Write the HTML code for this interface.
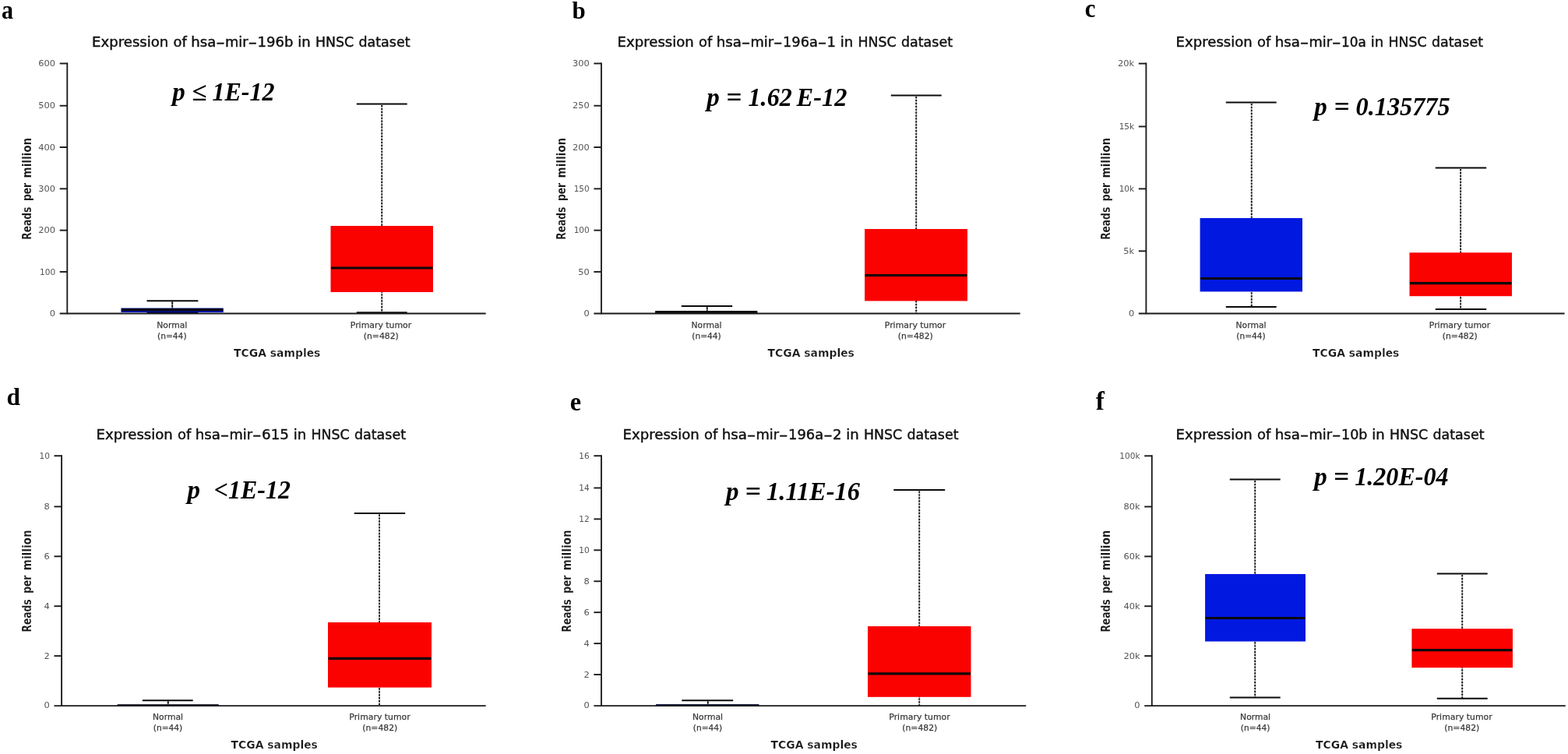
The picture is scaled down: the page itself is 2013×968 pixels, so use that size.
<!DOCTYPE html>
<html lang="en">
<head>
<meta charset="utf-8">
<title>Expression of hsa-mir in HNSC dataset</title>
<style>
html,body{margin:0;padding:0;background:#fff;}
body{width:2013px;height:968px;overflow:hidden;}
svg{display:block;}
.sans{font-family:"DejaVu Sans", "Liberation Sans", sans-serif;}
.serif{font-family:"Liberation Serif", serif;}
.letter{font-family:"Liberation Serif", serif;font-weight:bold;font-size:32.8px;fill:#000;}
.title{font-family:"DejaVu Sans", "Liberation Sans", sans-serif;font-size:18.3px;fill:#111;stroke:#111;stroke-width:0.45px;}
.tick{font-family:"DejaVu Sans", "Liberation Sans", sans-serif;font-size:10.9px;fill:#555;}
.cat{font-family:"DejaVu Sans", "Liberation Sans", sans-serif;font-size:11.2px;fill:#3a3a3a;stroke:#3a3a3a;stroke-width:0.25px;}
.axt{font-family:"DejaVu Sans", "Liberation Sans", sans-serif;font-size:13.6px;font-weight:bold;fill:#161616;stroke:#fff;stroke-width:0.22px;}
.p{font-family:"Liberation Serif", serif;font-weight:bold;font-style:italic;font-size:33px;fill:#000;}
</style>
</head>
<body>
<svg width="2013" height="968" viewBox="0 0 2013 968">
<rect x="0" y="0" width="2013" height="968" fill="#ffffff"/>

<g>
<text class="letter" transform="translate(2 24.2) scale(0.875 1)" style="font-size:34.4px">a</text>
<text class="title" y="59.8"><tspan x="118.1" textLength="98.2" lengthAdjust="spacingAndGlyphs">Expression</tspan> <tspan x="222.6" textLength="17.3" lengthAdjust="spacingAndGlyphs">of</tspan> <tspan x="245.2" textLength="32.15" lengthAdjust="spacingAndGlyphs">hsa</tspan><tspan x="277.3" textLength="11.6" lengthAdjust="spacingAndGlyphs">-</tspan><tspan x="288.9" textLength="29.55" lengthAdjust="spacingAndGlyphs">mir</tspan><tspan x="318.6" textLength="11.6" lengthAdjust="spacingAndGlyphs">-</tspan><tspan x="330.5" textLength="45.9" lengthAdjust="spacingAndGlyphs">196b</tspan> <tspan x="382.3" textLength="16.5" lengthAdjust="spacingAndGlyphs">in</tspan> <tspan x="405" textLength="49.1" lengthAdjust="spacingAndGlyphs">HNSC</tspan> <tspan x="460.45" textLength="66.05" lengthAdjust="spacingAndGlyphs">dataset</tspan></text>
<line x1="221.25" y1="387.8" x2="221.25" y2="401.3" stroke="#111" stroke-width="1.5" stroke-opacity="0.3"/>
<line x1="221.25" y1="387.8" x2="221.25" y2="401.3" stroke="#111" stroke-width="1.9" stroke-dasharray="2.2 1.71"/>
<rect x="155.4" y="395.5" width="131.4" height="5.5" fill="#0018e0"/>
<line x1="155.9" y1="397.8" x2="286.3" y2="397.8" stroke="#0a0a0a" stroke-width="3.4"/>
<line x1="188.5" y1="386.3" x2="254.4" y2="386.3" stroke="#0a0a0a" stroke-width="2"/>
<line x1="188.5" y1="401.3" x2="254.4" y2="401.3" stroke="#000050" stroke-width="2"/>
<line x1="221.25" y1="386.3" x2="221.25" y2="395.5" stroke="#111" stroke-width="1.3" stroke-opacity="0.75"/>
<line x1="490.25" y1="135" x2="490.25" y2="401.3" stroke="#111" stroke-width="1.5" stroke-opacity="0.3"/>
<line x1="490.25" y1="135" x2="490.25" y2="401.3" stroke="#111" stroke-width="1.9" stroke-dasharray="2.2 1.71"/>
<rect x="424.5" y="290" width="131.5" height="85" fill="#fa0200"/>
<line x1="425" y1="344" x2="555.5" y2="344" stroke="#0a0a0a" stroke-width="3"/>
<line x1="457.8" y1="133.5" x2="522.7" y2="133.5" stroke="#0a0a0a" stroke-width="2"/>
<line x1="457.8" y1="401.3" x2="522.7" y2="401.3" stroke="#0a0a0a" stroke-width="2"/>
<line x1="86.3" y1="80.5" x2="86.3" y2="403.3" stroke="#1a1a1a" stroke-width="1.85"/>
<line x1="76.7" y1="402.45" x2="623.7" y2="402.45" stroke="#1a1a1a" stroke-width="1.85"/>
<line x1="76.7" y1="81.5" x2="86.3" y2="81.5" stroke="#1a1a1a" stroke-width="1.9"/>
<text class="tick" transform="translate(71.1 85.25) scale(1.05 1)" text-anchor="end">600</text>
<line x1="76.7" y1="135.72" x2="86.3" y2="135.72" stroke="#1a1a1a" stroke-width="1.9"/>
<text class="tick" transform="translate(71.1 139.47) scale(1.05 1)" text-anchor="end">500</text>
<line x1="76.7" y1="189.03" x2="86.3" y2="189.03" stroke="#1a1a1a" stroke-width="1.9"/>
<text class="tick" transform="translate(71.1 192.78) scale(1.05 1)" text-anchor="end">400</text>
<line x1="76.7" y1="242.35" x2="86.3" y2="242.35" stroke="#1a1a1a" stroke-width="1.9"/>
<text class="tick" transform="translate(71.1 246.1) scale(1.05 1)" text-anchor="end">300</text>
<line x1="76.7" y1="295.67" x2="86.3" y2="295.67" stroke="#1a1a1a" stroke-width="1.9"/>
<text class="tick" transform="translate(71.1 299.42) scale(1.05 1)" text-anchor="end">200</text>
<line x1="76.7" y1="348.98" x2="86.3" y2="348.98" stroke="#1a1a1a" stroke-width="1.9"/>
<text class="tick" transform="translate(71.1 352.73) scale(0.97 1)" text-anchor="end">100</text>
<text class="tick" transform="translate(71.1 405.5) scale(1.05 1)" text-anchor="end">0</text>
<text class="axt" style="font-size:15.3px;stroke-width:0.15px" transform="translate(39.7 242.4) rotate(-90)"><tspan x="-65.4" textLength="42" lengthAdjust="spacingAndGlyphs">Reads</tspan> <tspan x="-15.7" textLength="23.2" lengthAdjust="spacingAndGlyphs">per</tspan> <tspan x="13.9" textLength="51.8" lengthAdjust="spacingAndGlyphs">million</tspan></text>
<text class="axt" x="355.7" y="457.6" text-anchor="middle" textLength="111.4" lengthAdjust="spacingAndGlyphs">TCGA samples</text>
<text class="cat" x="220.8" y="420.8" text-anchor="middle" textLength="39" lengthAdjust="spacingAndGlyphs">Normal</text>
<text class="cat" x="220.8" y="434.9" text-anchor="middle" textLength="37.5" lengthAdjust="spacingAndGlyphs">(n=44)</text>
<text class="cat" x="489" y="420.8" text-anchor="middle" textLength="78.5" lengthAdjust="spacingAndGlyphs">Primary tumor</text>
<text class="cat" x="489.3" y="434.9" text-anchor="middle" textLength="45" lengthAdjust="spacingAndGlyphs">(n=482)</text>
<text class="p" y="129" xml:space="preserve"><tspan x="221.2">p</tspan> <tspan x="246.2" textLength="19.1" lengthAdjust="spacingAndGlyphs">≤</tspan> <tspan x="272.5" textLength="80" lengthAdjust="spacingAndGlyphs">1E-12</tspan></text>
</g>
<g>
<text class="letter" transform="translate(734.6 24.4) scale(0.985 1)" style="font-size:31.5px">b</text>
<text class="title" y="59.8"><tspan x="792.6" textLength="98.2" lengthAdjust="spacingAndGlyphs">Expression</tspan> <tspan x="897.1" textLength="17.3" lengthAdjust="spacingAndGlyphs">of</tspan> <tspan x="919.7" textLength="32.15" lengthAdjust="spacingAndGlyphs">hsa</tspan><tspan x="951.8" textLength="11.6" lengthAdjust="spacingAndGlyphs">-</tspan><tspan x="963.4" textLength="29.55" lengthAdjust="spacingAndGlyphs">mir</tspan><tspan x="993.1" textLength="11.6" lengthAdjust="spacingAndGlyphs">-</tspan><tspan x="1005" textLength="44.87" lengthAdjust="spacingAndGlyphs">196a</tspan><tspan x="1049.87" textLength="11.6" lengthAdjust="spacingAndGlyphs">-</tspan><tspan x="1061.48" textLength="11.42" lengthAdjust="spacingAndGlyphs">1</tspan> <tspan x="1078.8" textLength="16.5" lengthAdjust="spacingAndGlyphs">in</tspan> <tspan x="1101.5" textLength="49.1" lengthAdjust="spacingAndGlyphs">HNSC</tspan> <tspan x="1156.95" textLength="66.05" lengthAdjust="spacingAndGlyphs">dataset</tspan></text>
<line x1="907.75" y1="394.5" x2="907.75" y2="402" stroke="#111" stroke-width="1.5" stroke-opacity="0.3"/>
<line x1="907.75" y1="394.5" x2="907.75" y2="402" stroke="#111" stroke-width="1.9" stroke-dasharray="2.2 1.71"/>
<rect x="841" y="399.3" width="131.5" height="2.7" fill="#0018e0"/>
<line x1="841.5" y1="400.5" x2="972" y2="400.5" stroke="#0a0a0a" stroke-width="3"/>
<line x1="874.8" y1="393" x2="940.2" y2="393" stroke="#0a0a0a" stroke-width="2"/>
<line x1="874.8" y1="402" x2="940.2" y2="402" stroke="#0a0a0a" stroke-width="2"/>
<line x1="907.75" y1="393" x2="907.75" y2="399.3" stroke="#111" stroke-width="1.3" stroke-opacity="0.75"/>
<line x1="1176.25" y1="124" x2="1176.25" y2="402.45" stroke="#111" stroke-width="1.5" stroke-opacity="0.3"/>
<line x1="1176.25" y1="124" x2="1176.25" y2="402.45" stroke="#111" stroke-width="1.9" stroke-dasharray="2.2 1.71"/>
<rect x="1110.1" y="294" width="131.9" height="92.4" fill="#fa0200"/>
<line x1="1110.6" y1="353.5" x2="1241.5" y2="353.5" stroke="#0a0a0a" stroke-width="3.2"/>
<line x1="1143.8" y1="122.5" x2="1208.7" y2="122.5" stroke="#0a0a0a" stroke-width="2"/>
<line x1="772" y1="80.5" x2="772" y2="403.3" stroke="#1a1a1a" stroke-width="1.85"/>
<line x1="762.4" y1="402.45" x2="1309.7" y2="402.45" stroke="#1a1a1a" stroke-width="1.85"/>
<line x1="762.4" y1="81.5" x2="772" y2="81.5" stroke="#1a1a1a" stroke-width="1.9"/>
<text class="tick" transform="translate(756.8 85.25) scale(1.05 1)" text-anchor="end">300</text>
<line x1="762.4" y1="135.72" x2="772" y2="135.72" stroke="#1a1a1a" stroke-width="1.9"/>
<text class="tick" transform="translate(756.8 139.47) scale(1.05 1)" text-anchor="end">250</text>
<line x1="762.4" y1="189.03" x2="772" y2="189.03" stroke="#1a1a1a" stroke-width="1.9"/>
<text class="tick" transform="translate(756.8 192.78) scale(1.05 1)" text-anchor="end">200</text>
<line x1="762.4" y1="242.35" x2="772" y2="242.35" stroke="#1a1a1a" stroke-width="1.9"/>
<text class="tick" transform="translate(756.8 246.1) scale(0.97 1)" text-anchor="end">150</text>
<line x1="762.4" y1="295.67" x2="772" y2="295.67" stroke="#1a1a1a" stroke-width="1.9"/>
<text class="tick" transform="translate(756.8 299.42) scale(0.97 1)" text-anchor="end">100</text>
<line x1="762.4" y1="348.98" x2="772" y2="348.98" stroke="#1a1a1a" stroke-width="1.9"/>
<text class="tick" transform="translate(756.8 352.73) scale(1.05 1)" text-anchor="end">50</text>
<text class="tick" transform="translate(756.8 405.5) scale(1.05 1)" text-anchor="end">0</text>
<text class="axt" style="font-size:15.3px;stroke-width:0.15px" transform="translate(725.7 242.4) rotate(-90)"><tspan x="-65.4" textLength="42" lengthAdjust="spacingAndGlyphs">Reads</tspan> <tspan x="-15.7" textLength="23.2" lengthAdjust="spacingAndGlyphs">per</tspan> <tspan x="13.9" textLength="51.8" lengthAdjust="spacingAndGlyphs">million</tspan></text>
<text class="axt" x="1041.2" y="457.6" text-anchor="middle" textLength="111.4" lengthAdjust="spacingAndGlyphs">TCGA samples</text>
<text class="cat" x="907" y="420.8" text-anchor="middle" textLength="39" lengthAdjust="spacingAndGlyphs">Normal</text>
<text class="cat" x="907" y="434.9" text-anchor="middle" textLength="37.5" lengthAdjust="spacingAndGlyphs">(n=44)</text>
<text class="cat" x="1175" y="420.8" text-anchor="middle" textLength="78.5" lengthAdjust="spacingAndGlyphs">Primary tumor</text>
<text class="cat" x="1175.3" y="434.9" text-anchor="middle" textLength="45" lengthAdjust="spacingAndGlyphs">(n=482)</text>
<text class="p" y="136" xml:space="preserve"><tspan x="907.2">p</tspan> <tspan x="932.3" textLength="20.1" lengthAdjust="spacingAndGlyphs">=</tspan> <tspan x="960.5" textLength="56.3" lengthAdjust="spacingAndGlyphs">1.62</tspan> <tspan x="1022.6" textLength="64.9" lengthAdjust="spacingAndGlyphs">E-12</tspan></text>
</g>
<g>
<text class="letter" transform="translate(1392.7 21.7) scale(0.924 1)" style="font-size:33.4px">c</text>
<text class="title" y="59.8"><tspan x="1509.6" textLength="98.2" lengthAdjust="spacingAndGlyphs">Expression</tspan> <tspan x="1614.1" textLength="17.3" lengthAdjust="spacingAndGlyphs">of</tspan> <tspan x="1636.7" textLength="32.15" lengthAdjust="spacingAndGlyphs">hsa</tspan><tspan x="1668.8" textLength="11.6" lengthAdjust="spacingAndGlyphs">-</tspan><tspan x="1680.4" textLength="29.55" lengthAdjust="spacingAndGlyphs">mir</tspan><tspan x="1710.1" textLength="11.6" lengthAdjust="spacingAndGlyphs">-</tspan><tspan x="1722" textLength="31.9" lengthAdjust="spacingAndGlyphs">10a</tspan> <tspan x="1759.8" textLength="16.5" lengthAdjust="spacingAndGlyphs">in</tspan> <tspan x="1782.5" textLength="49.1" lengthAdjust="spacingAndGlyphs">HNSC</tspan> <tspan x="1837.95" textLength="66.05" lengthAdjust="spacingAndGlyphs">dataset</tspan></text>
<line x1="1606.75" y1="133" x2="1606.75" y2="394" stroke="#111" stroke-width="1.5" stroke-opacity="0.3"/>
<line x1="1606.75" y1="133" x2="1606.75" y2="394" stroke="#111" stroke-width="1.9" stroke-dasharray="2.2 1.71"/>
<rect x="1540.6" y="280" width="131.4" height="94.4" fill="#0018e0"/>
<line x1="1541.1" y1="357.5" x2="1671.5" y2="357.5" stroke="#0a0a0a" stroke-width="3"/>
<line x1="1573.8" y1="131.5" x2="1638.7" y2="131.5" stroke="#0a0a0a" stroke-width="2"/>
<line x1="1573.8" y1="394" x2="1638.7" y2="394" stroke="#0a0a0a" stroke-width="2"/>
<line x1="1875.15" y1="217.1" x2="1875.15" y2="397.1" stroke="#111" stroke-width="1.5" stroke-opacity="0.3"/>
<line x1="1875.15" y1="217.1" x2="1875.15" y2="397.1" stroke="#111" stroke-width="1.9" stroke-dasharray="2.2 1.71"/>
<rect x="1809.5" y="324.3" width="131.5" height="55.9" fill="#fa0200"/>
<line x1="1810" y1="363.6" x2="1940.5" y2="363.6" stroke="#0a0a0a" stroke-width="3.2"/>
<line x1="1842.8" y1="215.6" x2="1908.2" y2="215.6" stroke="#0a0a0a" stroke-width="2"/>
<line x1="1842.8" y1="397.1" x2="1908.2" y2="397.1" stroke="#0a0a0a" stroke-width="2"/>
<line x1="1471.4" y1="80.6" x2="1471.4" y2="403.3" stroke="#1a1a1a" stroke-width="1.85"/>
<line x1="1461.8" y1="402.45" x2="2008.6" y2="402.45" stroke="#1a1a1a" stroke-width="1.85"/>
<line x1="1461.8" y1="81.6" x2="1471.4" y2="81.6" stroke="#1a1a1a" stroke-width="1.9"/>
<text class="tick" transform="translate(1456.2 85.35) scale(1.05 1)" text-anchor="end">20k</text>
<line x1="1461.8" y1="162.45" x2="1471.4" y2="162.45" stroke="#1a1a1a" stroke-width="1.9"/>
<text class="tick" transform="translate(1456.2 166.2) scale(0.97 1)" text-anchor="end">15k</text>
<line x1="1461.8" y1="242.4" x2="1471.4" y2="242.4" stroke="#1a1a1a" stroke-width="1.9"/>
<text class="tick" transform="translate(1456.2 246.15) scale(0.97 1)" text-anchor="end">10k</text>
<line x1="1461.8" y1="322.35" x2="1471.4" y2="322.35" stroke="#1a1a1a" stroke-width="1.9"/>
<text class="tick" transform="translate(1456.2 326.1) scale(1.05 1)" text-anchor="end">5k</text>
<text class="tick" transform="translate(1456.2 405.5) scale(1.05 1)" text-anchor="end">0</text>
<text class="axt" style="font-size:15.3px;stroke-width:0.15px" transform="translate(1425.2 242.45) rotate(-90)"><tspan x="-65.4" textLength="42" lengthAdjust="spacingAndGlyphs">Reads</tspan> <tspan x="-15.7" textLength="23.2" lengthAdjust="spacingAndGlyphs">per</tspan> <tspan x="13.9" textLength="51.8" lengthAdjust="spacingAndGlyphs">million</tspan></text>
<text class="axt" x="1740.7" y="457.6" text-anchor="middle" textLength="111.4" lengthAdjust="spacingAndGlyphs">TCGA samples</text>
<text class="cat" x="1606" y="420.8" text-anchor="middle" textLength="39" lengthAdjust="spacingAndGlyphs">Normal</text>
<text class="cat" x="1606" y="434.9" text-anchor="middle" textLength="37.5" lengthAdjust="spacingAndGlyphs">(n=44)</text>
<text class="cat" x="1874" y="420.8" text-anchor="middle" textLength="78.5" lengthAdjust="spacingAndGlyphs">Primary tumor</text>
<text class="cat" x="1874.3" y="434.9" text-anchor="middle" textLength="45" lengthAdjust="spacingAndGlyphs">(n=482)</text>
<text class="p" y="147.5" xml:space="preserve"><tspan x="1687.2">p</tspan> <tspan x="1712.4" textLength="20.1" lengthAdjust="spacingAndGlyphs">=</tspan> <tspan x="1740.6" textLength="121" lengthAdjust="spacingAndGlyphs">0.135775</tspan></text>
</g>
<g>
<text class="letter" transform="translate(8.5 520.15) scale(1.0 1)" style="font-size:31.3px">d</text>
<text class="title" y="564.3"><tspan x="123.6" textLength="98.2" lengthAdjust="spacingAndGlyphs">Expression</tspan> <tspan x="228.1" textLength="17.3" lengthAdjust="spacingAndGlyphs">of</tspan> <tspan x="250.7" textLength="32.15" lengthAdjust="spacingAndGlyphs">hsa</tspan><tspan x="282.8" textLength="11.6" lengthAdjust="spacingAndGlyphs">-</tspan><tspan x="294.4" textLength="29.55" lengthAdjust="spacingAndGlyphs">mir</tspan><tspan x="324.1" textLength="11.6" lengthAdjust="spacingAndGlyphs">-</tspan><tspan x="336" textLength="34.9" lengthAdjust="spacingAndGlyphs">615</tspan> <tspan x="376.8" textLength="16.5" lengthAdjust="spacingAndGlyphs">in</tspan> <tspan x="399.5" textLength="49.1" lengthAdjust="spacingAndGlyphs">HNSC</tspan> <tspan x="454.95" textLength="66.05" lengthAdjust="spacingAndGlyphs">dataset</tspan></text>
<line x1="215.75" y1="900.8" x2="215.75" y2="906.15" stroke="#111" stroke-width="1.5" stroke-opacity="0.3"/>
<line x1="215.75" y1="900.8" x2="215.75" y2="906.15" stroke="#111" stroke-width="1.9" stroke-dasharray="2.2 1.71"/>
<rect x="150.5" y="904.6" width="130.5" height="1.4" fill="#0018e0"/>
<line x1="151" y1="905.1" x2="280.5" y2="905.1" stroke="#0a0a0a" stroke-width="1.9"/>
<line x1="182.8" y1="899.3" x2="247.7" y2="899.3" stroke="#0a0a0a" stroke-width="2"/>
<line x1="215.75" y1="899.3" x2="215.75" y2="904.6" stroke="#111" stroke-width="1.3" stroke-opacity="0.75"/>
<line x1="487.05" y1="660.5" x2="487.05" y2="906.15" stroke="#111" stroke-width="1.5" stroke-opacity="0.3"/>
<line x1="487.05" y1="660.5" x2="487.05" y2="906.15" stroke="#111" stroke-width="1.9" stroke-dasharray="2.2 1.71"/>
<rect x="421" y="799" width="133" height="83.6" fill="#fa0200"/>
<line x1="421.5" y1="845.3" x2="553.5" y2="845.3" stroke="#0a0a0a" stroke-width="3.2"/>
<line x1="454.8" y1="659" x2="520.2" y2="659" stroke="#0a0a0a" stroke-width="2"/>
<line x1="79.1" y1="584.2" x2="79.1" y2="907" stroke="#1a1a1a" stroke-width="1.85"/>
<line x1="69.5" y1="906.15" x2="623.7" y2="906.15" stroke="#1a1a1a" stroke-width="1.85"/>
<line x1="69.5" y1="585.2" x2="79.1" y2="585.2" stroke="#1a1a1a" stroke-width="1.9"/>
<text class="tick" transform="translate(63.9 588.95) scale(0.97 1)" text-anchor="end">10</text>
<line x1="69.5" y1="650.4" x2="79.1" y2="650.4" stroke="#1a1a1a" stroke-width="1.9"/>
<text class="tick" transform="translate(63.9 654.15) scale(1.05 1)" text-anchor="end">8</text>
<line x1="69.5" y1="714.3" x2="79.1" y2="714.3" stroke="#1a1a1a" stroke-width="1.9"/>
<text class="tick" transform="translate(63.9 718.05) scale(1.05 1)" text-anchor="end">6</text>
<line x1="69.5" y1="778.2" x2="79.1" y2="778.2" stroke="#1a1a1a" stroke-width="1.9"/>
<text class="tick" transform="translate(63.9 781.95) scale(1.05 1)" text-anchor="end">4</text>
<line x1="69.5" y1="842.1" x2="79.1" y2="842.1" stroke="#1a1a1a" stroke-width="1.9"/>
<text class="tick" transform="translate(63.9 845.85) scale(1.05 1)" text-anchor="end">2</text>
<text class="tick" transform="translate(63.9 909.2) scale(1.05 1)" text-anchor="end">0</text>
<text class="axt" style="font-size:15.3px;stroke-width:0.15px" transform="translate(40.1 746.1) rotate(-90)"><tspan x="-65.4" textLength="42" lengthAdjust="spacingAndGlyphs">Reads</tspan> <tspan x="-15.7" textLength="23.2" lengthAdjust="spacingAndGlyphs">per</tspan> <tspan x="13.9" textLength="51.8" lengthAdjust="spacingAndGlyphs">million</tspan></text>
<text class="axt" x="352.2" y="961.3" text-anchor="middle" textLength="111.4" lengthAdjust="spacingAndGlyphs">TCGA samples</text>
<text class="cat" x="215.5" y="924.1" text-anchor="middle" textLength="39" lengthAdjust="spacingAndGlyphs">Normal</text>
<text class="cat" x="215.5" y="938.2" text-anchor="middle" textLength="37.5" lengthAdjust="spacingAndGlyphs">(n=44)</text>
<text class="cat" x="487.5" y="924.1" text-anchor="middle" textLength="78.5" lengthAdjust="spacingAndGlyphs">Primary tumor</text>
<text class="cat" x="487.8" y="938.2" text-anchor="middle" textLength="45" lengthAdjust="spacingAndGlyphs">(n=482)</text>
<text class="p" y="639.5" xml:space="preserve"><tspan x="240.4">p</tspan>  <tspan x="274.8" textLength="98.2" lengthAdjust="spacingAndGlyphs">&lt;1E-12</tspan></text>
</g>
<g>
<text class="letter" transform="translate(731.8 526.85) scale(0.94 1)" style="font-size:34.4px">e</text>
<text class="title" y="564.3"><tspan x="799.6" textLength="98.2" lengthAdjust="spacingAndGlyphs">Expression</tspan> <tspan x="904.1" textLength="17.3" lengthAdjust="spacingAndGlyphs">of</tspan> <tspan x="926.7" textLength="32.15" lengthAdjust="spacingAndGlyphs">hsa</tspan><tspan x="958.8" textLength="11.6" lengthAdjust="spacingAndGlyphs">-</tspan><tspan x="970.4" textLength="29.55" lengthAdjust="spacingAndGlyphs">mir</tspan><tspan x="1000.1" textLength="11.6" lengthAdjust="spacingAndGlyphs">-</tspan><tspan x="1012" textLength="45.2" lengthAdjust="spacingAndGlyphs">196a</tspan><tspan x="1057.25" textLength="11.6" lengthAdjust="spacingAndGlyphs">-</tspan><tspan x="1068.9" textLength="11.5" lengthAdjust="spacingAndGlyphs">2</tspan> <tspan x="1086.3" textLength="16.5" lengthAdjust="spacingAndGlyphs">in</tspan> <tspan x="1109" textLength="49.1" lengthAdjust="spacingAndGlyphs">HNSC</tspan> <tspan x="1164.45" textLength="66.05" lengthAdjust="spacingAndGlyphs">dataset</tspan></text>
<line x1="908.75" y1="900.8" x2="908.75" y2="906.15" stroke="#111" stroke-width="1.5" stroke-opacity="0.3"/>
<line x1="908.75" y1="900.8" x2="908.75" y2="906.15" stroke="#111" stroke-width="1.9" stroke-dasharray="2.2 1.71"/>
<rect x="842" y="904.2" width="132.5" height="1.8" fill="#0018e0"/>
<line x1="842.5" y1="905" x2="974" y2="905" stroke="#0a0a0a" stroke-width="1.7"/>
<line x1="875.3" y1="899.3" x2="941.2" y2="899.3" stroke="#0a0a0a" stroke-width="2"/>
<line x1="908.75" y1="899.3" x2="908.75" y2="904.2" stroke="#111" stroke-width="1.3" stroke-opacity="0.75"/>
<line x1="1180.25" y1="630.5" x2="1180.25" y2="906.15" stroke="#111" stroke-width="1.5" stroke-opacity="0.3"/>
<line x1="1180.25" y1="630.5" x2="1180.25" y2="906.15" stroke="#111" stroke-width="1.9" stroke-dasharray="2.2 1.71"/>
<rect x="1114" y="804" width="132.5" height="90.8" fill="#fa0200"/>
<line x1="1114.5" y1="864.8" x2="1246" y2="864.8" stroke="#0a0a0a" stroke-width="3.2"/>
<line x1="1147.3" y1="629" x2="1213.2" y2="629" stroke="#0a0a0a" stroke-width="2"/>
<line x1="772" y1="584.2" x2="772" y2="907" stroke="#1a1a1a" stroke-width="1.85"/>
<line x1="762.4" y1="906.15" x2="1317.2" y2="906.15" stroke="#1a1a1a" stroke-width="1.85"/>
<line x1="762.4" y1="585.2" x2="772" y2="585.2" stroke="#1a1a1a" stroke-width="1.9"/>
<text class="tick" transform="translate(756.8 588.95) scale(0.97 1)" text-anchor="end">16</text>
<line x1="762.4" y1="626.44" x2="772" y2="626.44" stroke="#1a1a1a" stroke-width="1.9"/>
<text class="tick" transform="translate(756.8 630.19) scale(0.97 1)" text-anchor="end">14</text>
<line x1="762.4" y1="666.38" x2="772" y2="666.38" stroke="#1a1a1a" stroke-width="1.9"/>
<text class="tick" transform="translate(756.8 670.12) scale(0.97 1)" text-anchor="end">12</text>
<line x1="762.4" y1="706.31" x2="772" y2="706.31" stroke="#1a1a1a" stroke-width="1.9"/>
<text class="tick" transform="translate(756.8 710.06) scale(0.97 1)" text-anchor="end">10</text>
<line x1="762.4" y1="746.25" x2="772" y2="746.25" stroke="#1a1a1a" stroke-width="1.9"/>
<text class="tick" transform="translate(756.8 750) scale(1.05 1)" text-anchor="end">8</text>
<line x1="762.4" y1="786.19" x2="772" y2="786.19" stroke="#1a1a1a" stroke-width="1.9"/>
<text class="tick" transform="translate(756.8 789.94) scale(1.05 1)" text-anchor="end">6</text>
<line x1="762.4" y1="826.12" x2="772" y2="826.12" stroke="#1a1a1a" stroke-width="1.9"/>
<text class="tick" transform="translate(756.8 829.88) scale(1.05 1)" text-anchor="end">4</text>
<line x1="762.4" y1="866.06" x2="772" y2="866.06" stroke="#1a1a1a" stroke-width="1.9"/>
<text class="tick" transform="translate(756.8 869.81) scale(1.05 1)" text-anchor="end">2</text>
<text class="tick" transform="translate(756.8 909.2) scale(1.05 1)" text-anchor="end">0</text>
<text class="axt" style="font-size:15.3px;stroke-width:0.15px" transform="translate(732.7 746.1) rotate(-90)"><tspan x="-65.4" textLength="42" lengthAdjust="spacingAndGlyphs">Reads</tspan> <tspan x="-15.7" textLength="23.2" lengthAdjust="spacingAndGlyphs">per</tspan> <tspan x="13.9" textLength="51.8" lengthAdjust="spacingAndGlyphs">million</tspan></text>
<text class="axt" x="1045.2" y="961.3" text-anchor="middle" textLength="111.4" lengthAdjust="spacingAndGlyphs">TCGA samples</text>
<text class="cat" x="908.5" y="924.1" text-anchor="middle" textLength="39" lengthAdjust="spacingAndGlyphs">Normal</text>
<text class="cat" x="908.5" y="938.2" text-anchor="middle" textLength="37.5" lengthAdjust="spacingAndGlyphs">(n=44)</text>
<text class="cat" x="1180.5" y="924.1" text-anchor="middle" textLength="78.5" lengthAdjust="spacingAndGlyphs">Primary tumor</text>
<text class="cat" x="1180.8" y="938.2" text-anchor="middle" textLength="45" lengthAdjust="spacingAndGlyphs">(n=482)</text>
<text class="p" y="642.4" xml:space="preserve"><tspan x="931.9">p</tspan> <tspan x="956.6" textLength="20.4" lengthAdjust="spacingAndGlyphs">=</tspan> <tspan x="984.1" textLength="119.9" lengthAdjust="spacingAndGlyphs">1.11E-16</tspan></text>
</g>
<g>
<text class="letter" transform="translate(1406.8 526.4) scale(1.0 1)" style="font-size:33.2px">f</text>
<text class="title" y="564.3"><tspan x="1509.6" textLength="98.2" lengthAdjust="spacingAndGlyphs">Expression</tspan> <tspan x="1614.1" textLength="17.3" lengthAdjust="spacingAndGlyphs">of</tspan> <tspan x="1636.7" textLength="32.15" lengthAdjust="spacingAndGlyphs">hsa</tspan><tspan x="1668.8" textLength="11.6" lengthAdjust="spacingAndGlyphs">-</tspan><tspan x="1680.4" textLength="29.55" lengthAdjust="spacingAndGlyphs">mir</tspan><tspan x="1710.1" textLength="11.6" lengthAdjust="spacingAndGlyphs">-</tspan><tspan x="1722" textLength="33.4" lengthAdjust="spacingAndGlyphs">10b</tspan> <tspan x="1761.3" textLength="16.5" lengthAdjust="spacingAndGlyphs">in</tspan> <tspan x="1784" textLength="49.1" lengthAdjust="spacingAndGlyphs">HNSC</tspan> <tspan x="1839.45" textLength="66.05" lengthAdjust="spacingAndGlyphs">dataset</tspan></text>
<line x1="1611.25" y1="617" x2="1611.25" y2="895.5" stroke="#111" stroke-width="1.5" stroke-opacity="0.3"/>
<line x1="1611.25" y1="617" x2="1611.25" y2="895.5" stroke="#111" stroke-width="1.9" stroke-dasharray="2.2 1.71"/>
<rect x="1547.1" y="737" width="128.9" height="86.5" fill="#0018e0"/>
<line x1="1547.6" y1="793.5" x2="1675.5" y2="793.5" stroke="#0a0a0a" stroke-width="3"/>
<line x1="1578.8" y1="615.5" x2="1643.7" y2="615.5" stroke="#0a0a0a" stroke-width="2"/>
<line x1="1578.8" y1="895.5" x2="1643.7" y2="895.5" stroke="#0a0a0a" stroke-width="2"/>
<line x1="1877.25" y1="738.1" x2="1877.25" y2="896.8" stroke="#111" stroke-width="1.5" stroke-opacity="0.3"/>
<line x1="1877.25" y1="738.1" x2="1877.25" y2="896.8" stroke="#111" stroke-width="1.9" stroke-dasharray="2.2 1.71"/>
<rect x="1812.4" y="807.2" width="129.6" height="50" fill="#fa0200"/>
<line x1="1812.9" y1="834.6" x2="1941.5" y2="834.6" stroke="#0a0a0a" stroke-width="3.3"/>
<line x1="1844.8" y1="736.6" x2="1909.7" y2="736.6" stroke="#0a0a0a" stroke-width="2"/>
<line x1="1844.8" y1="896.8" x2="1909.7" y2="896.8" stroke="#0a0a0a" stroke-width="2"/>
<line x1="1478.8" y1="584.3" x2="1478.8" y2="907" stroke="#1a1a1a" stroke-width="1.85"/>
<line x1="1469.2" y1="906.15" x2="2009.8" y2="906.15" stroke="#1a1a1a" stroke-width="1.85"/>
<line x1="1469.2" y1="585.3" x2="1478.8" y2="585.3" stroke="#1a1a1a" stroke-width="1.9"/>
<text class="tick" transform="translate(1463.6 589.05) scale(0.97 1)" text-anchor="end">100k</text>
<line x1="1469.2" y1="650.48" x2="1478.8" y2="650.48" stroke="#1a1a1a" stroke-width="1.9"/>
<text class="tick" transform="translate(1463.6 654.23) scale(1.05 1)" text-anchor="end">80k</text>
<line x1="1469.2" y1="714.36" x2="1478.8" y2="714.36" stroke="#1a1a1a" stroke-width="1.9"/>
<text class="tick" transform="translate(1463.6 718.11) scale(1.05 1)" text-anchor="end">60k</text>
<line x1="1469.2" y1="778.24" x2="1478.8" y2="778.24" stroke="#1a1a1a" stroke-width="1.9"/>
<text class="tick" transform="translate(1463.6 781.99) scale(1.05 1)" text-anchor="end">40k</text>
<line x1="1469.2" y1="842.12" x2="1478.8" y2="842.12" stroke="#1a1a1a" stroke-width="1.9"/>
<text class="tick" transform="translate(1463.6 845.87) scale(1.05 1)" text-anchor="end">20k</text>
<text class="tick" transform="translate(1463.6 909.2) scale(1.05 1)" text-anchor="end">0</text>
<text class="axt" style="font-size:15.3px;stroke-width:0.15px" transform="translate(1425.2 746.15) rotate(-90)"><tspan x="-65.4" textLength="42" lengthAdjust="spacingAndGlyphs">Reads</tspan> <tspan x="-15.7" textLength="23.2" lengthAdjust="spacingAndGlyphs">per</tspan> <tspan x="13.9" textLength="51.8" lengthAdjust="spacingAndGlyphs">million</tspan></text>
<text class="axt" x="1744.7" y="961.3" text-anchor="middle" textLength="111.4" lengthAdjust="spacingAndGlyphs">TCGA samples</text>
<text class="cat" x="1611.6" y="924.1" text-anchor="middle" textLength="39" lengthAdjust="spacingAndGlyphs">Normal</text>
<text class="cat" x="1611.6" y="938.2" text-anchor="middle" textLength="37.5" lengthAdjust="spacingAndGlyphs">(n=44)</text>
<text class="cat" x="1876.5" y="924.1" text-anchor="middle" textLength="78.5" lengthAdjust="spacingAndGlyphs">Primary tumor</text>
<text class="cat" x="1876.8" y="938.2" text-anchor="middle" textLength="45" lengthAdjust="spacingAndGlyphs">(n=482)</text>
<text class="p" y="623" xml:space="preserve"><tspan x="1687.2">p</tspan> <tspan x="1712" textLength="20" lengthAdjust="spacingAndGlyphs">=</tspan> <tspan x="1739.3" textLength="120.2" lengthAdjust="spacingAndGlyphs">1.20E-04</tspan></text>
</g>
</svg>
</body>
</html>
